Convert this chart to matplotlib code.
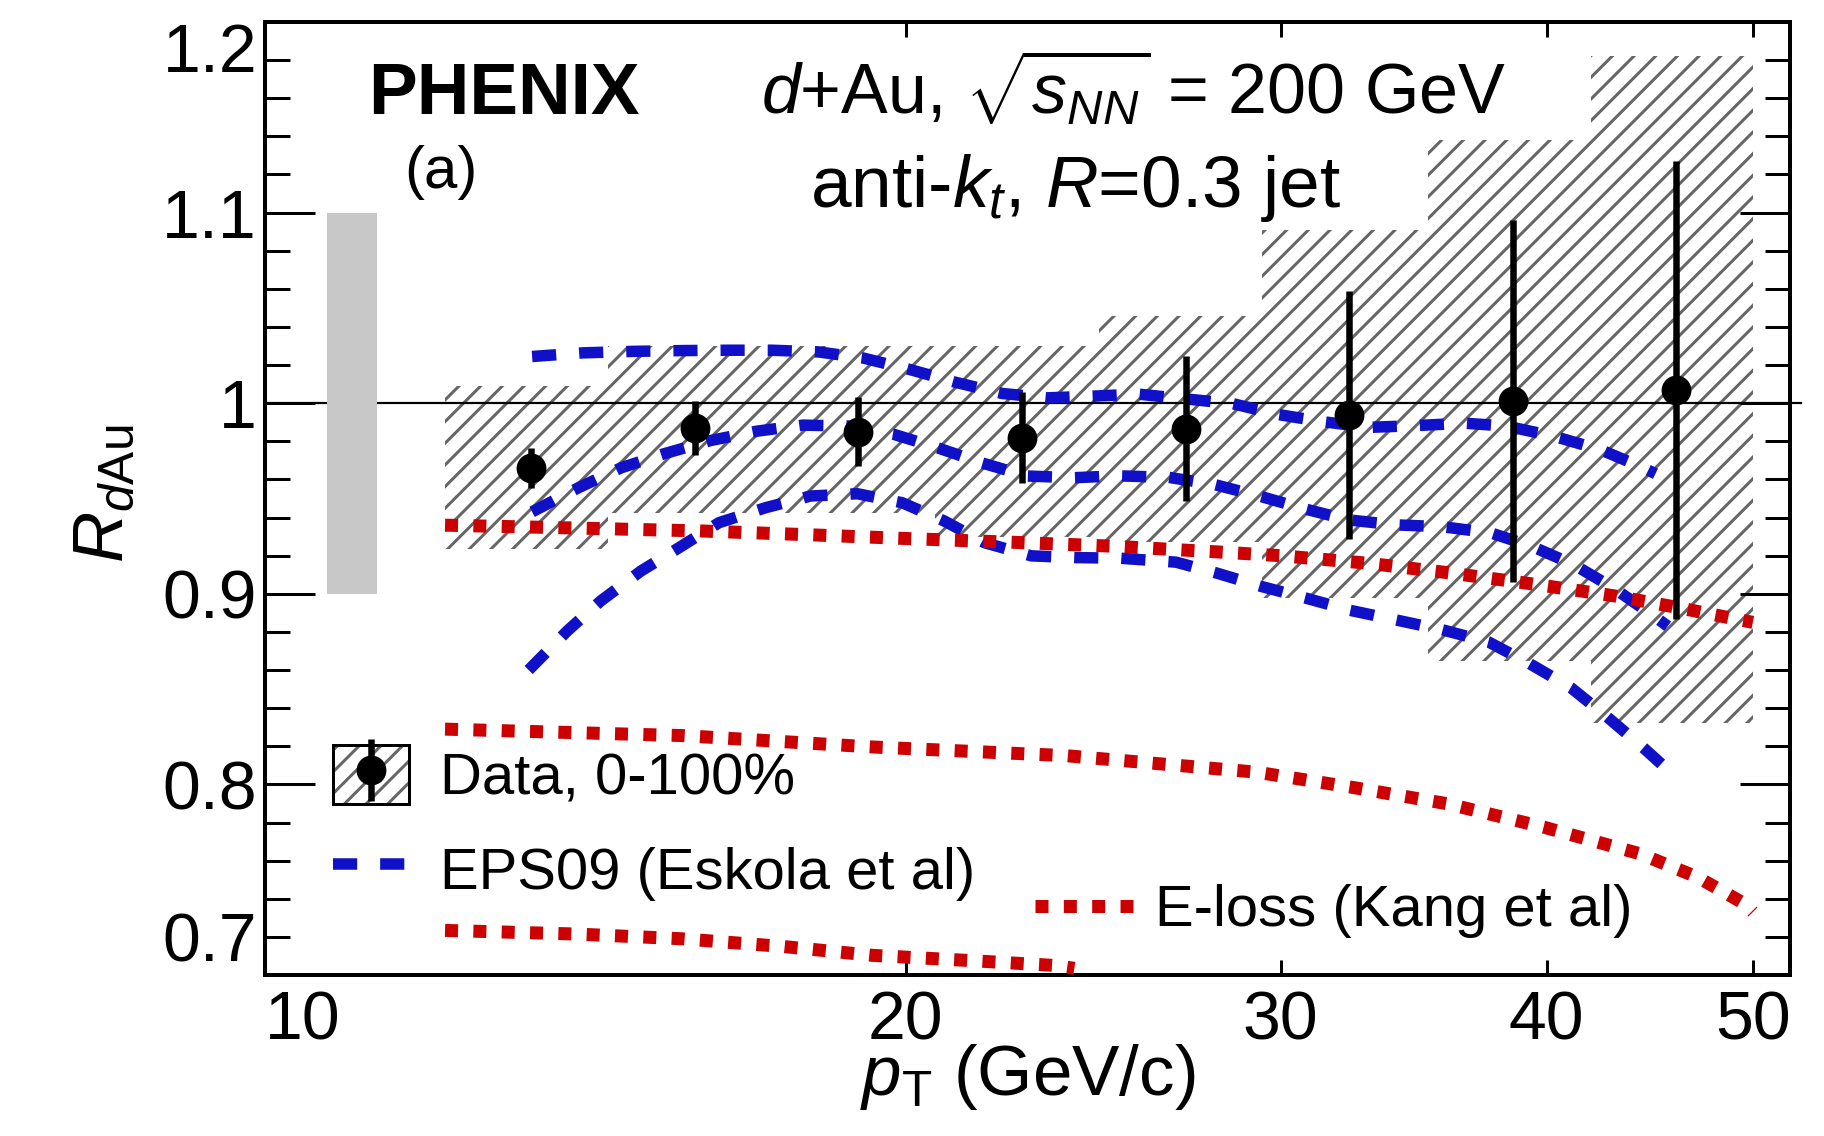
import numpy as np
import matplotlib
matplotlib.use('Agg')
import matplotlib.pyplot as plt
from matplotlib.patches import Patch
from matplotlib.lines import Line2D
from matplotlib.legend_handler import HandlerTuple
from matplotlib.ticker import MultipleLocator, NullLocator

DPI = 130


def px(v):
    # pixel size in the 1824x1136 picture -> points
    return v * 72.0 / DPI


# jet bins (GeV/c), data points, stat errors, systematic boxes
bin_lo = [12.15, 14.5, 17.3, 20.65, 24.65, 29.4, 35.2, 41.95]
bin_hi = [14.5, 17.3, 20.65, 24.65, 29.4, 35.2, 41.95, 50.0]
pt = [13.34, 15.92, 19.0, 22.67, 27.07, 32.3, 38.56, 46.02]
rdau = [0.966, 0.987, 0.985, 0.982, 0.9866, 0.994, 1.001, 1.007]
stat_err = [0.0105, 0.014, 0.018, 0.024, 0.038, 0.065, 0.095, 0.12]
sys_lo = [0.9235, 0.9425, 0.9425, 0.930, 0.927, 0.898, 0.865, 0.832]
sys_hi = [1.009, 1.030, 1.030, 1.030, 1.046, 1.091, 1.138, 1.182]

# global normalisation box
norm_x = [10.69, 11.29]
norm_lo = 0.9
norm_hi = 1.1

# EPS09 (Eskola et al) curves
eps_up_x = [13.35, 14.1, 14.9, 15.7, 16.5, 17.3, 18.2, 19.1, 20.1, 21.1, 22.2, 23.3,
            24.5, 25.7, 27.1, 28.5, 29.9, 31.4, 33.0, 34.8, 36.6, 38.3, 40.3, 42.4,
            44.4, 45.0]
eps_up_y = [1.0245, 1.0264, 1.0272, 1.0276, 1.0278, 1.0278, 1.0269, 1.0237, 1.0176,
            1.011, 1.0051, 1.0028, 1.0037, 1.0048, 1.0022, 0.9997, 0.9941, 0.9903,
            0.9873, 0.9883, 0.9895, 0.988, 0.9827, 0.9756, 0.9662, 0.963]
eps_mid_x = [13.35, 14.04, 14.70, 15.39, 16.19, 17.02, 17.89, 18.79, 19.75, 20.70,
             21.71, 22.80, 23.99, 25.15, 26.58, 27.93, 29.29, 30.78, 32.27, 33.92,
             35.74, 37.67, 39.38, 41.18, 43.05, 45.03, 45.6]
eps_mid_y = [0.943, 0.9557, 0.9661, 0.9734, 0.9804, 0.9853, 0.9885, 0.988, 0.9836,
             0.9766, 0.9687, 0.9618, 0.9609, 0.9619, 0.9611, 0.9573, 0.9514, 0.9446,
             0.9388, 0.9362, 0.9352, 0.9319, 0.9248, 0.9154, 0.9027, 0.8875, 0.883]
eps_lo_x = [13.3, 13.87, 14.38, 15.02, 15.65, 16.34, 17.19, 18.04, 18.98, 19.92,
            20.85, 21.78, 22.91, 24.0, 25.2, 26.79, 28.01, 29.37, 30.86, 32.35,
            34.01, 35.74, 37.57, 39.28, 41.07, 42.71, 44.44, 45.74]
eps_lo_y = [0.860, 0.8806, 0.8963, 0.912, 0.9242, 0.9373, 0.9452, 0.9513, 0.9525,
            0.9478, 0.9382, 0.9268, 0.9199, 0.919, 0.9187, 0.9166, 0.9108, 0.9039,
            0.8976, 0.8913, 0.8862, 0.8811, 0.8747, 0.8633, 0.8507, 0.8354, 0.819,
            0.8063]

# E-loss (Kang et al) curves
eloss_a_x = [12.15, 14.0, 16.0, 18.0, 20.0, 22.5, 25.0, 28.0, 30.0, 33.0, 36.0,
             39.5, 43.0, 46.0, 50.0]
eloss_a_y = [0.936, 0.9345, 0.933, 0.931, 0.929, 0.927, 0.925, 0.922, 0.920, 0.916,
             0.911, 0.905, 0.899, 0.893, 0.885]
eloss_b_x = [12.15, 15.72, 19.32, 23.77, 29.24, 32.4, 35.95, 39.9, 44.25, 47.1, 49.55,
             50.0]
eloss_b_y = [0.829, 0.8256, 0.8196, 0.8151, 0.8064, 0.7985, 0.7898, 0.7775, 0.7636,
             0.7513, 0.7374, 0.733]
eloss_c_x = [12.15, 14.0, 15.7, 17.5, 19.3, 21.5, 23.5, 24.0]
eloss_c_y = [0.7234, 0.7215, 0.719, 0.715, 0.7103, 0.7075, 0.705, 0.7035]

x_ticks = [10, 20, 30, 40, 50]
x_labels = ['10', '20', '30', '40', '50']
y_ticks = [0.7, 0.8, 0.9, 1.0, 1.1, 1.2]
y_labels = ['0.7', '0.8', '0.9', '1', '1.1', '1.2']

BLUE = '#1010c8'
RED = '#cc0000'
HATCH = '#666666'

plt.rcParams['font.family'] = 'Liberation Sans'
plt.rcParams['mathtext.fontset'] = 'custom'
plt.rcParams['mathtext.rm'] = 'Liberation Sans'
plt.rcParams['mathtext.it'] = 'Liberation Sans:italic'
plt.rcParams['mathtext.bf'] = 'Liberation Sans:bold'
plt.rcParams['hatch.linewidth'] = px(3)

fig = plt.figure(figsize=(1824 / DPI, 1136 / DPI), dpi=DPI)
ax = fig.add_axes([265 / 1824, 1 - 975 / 1136, 1525 / 1824, 953 / 1136])
ax.set_xscale('log')

# systematic boxes
ax.bar(bin_lo, np.subtract(sys_hi, sys_lo), width=np.subtract(bin_hi, bin_lo),
       bottom=sys_lo, align='edge', facecolor='none', edgecolor=HATCH,
       hatch='//', linewidth=0, zorder=1)

ax.axhline(1.0, color='k', lw=px(2.2), xmax=1.007, clip_on=False, zorder=1.5)
ax.fill_between(norm_x, norm_lo, norm_hi, color='#c8c8c8', lw=0, zorder=2)

for cx, cy in [(eps_up_x, eps_up_y), (eps_mid_x, eps_mid_y), (eps_lo_x, eps_lo_y)]:
    ax.plot(cx, cy, color=BLUE, lw=px(11.5), dashes=(2.1, 2.0), zorder=3)
for cx, cy in [(eloss_a_x, eloss_a_y), (eloss_b_x, eloss_b_y), (eloss_c_x, eloss_c_y)]:
    ax.plot(cx, cy, color=RED, lw=px(13), dashes=(1.0, 1.18), zorder=3)

ax.errorbar(pt, rdau, yerr=stat_err, fmt='o', color='k', ms=px(28),
            elinewidth=px(6.5), capsize=0, zorder=5)

ax.set_xlim(10, 52.05)
ax.set_ylim(0.7, 1.2)

ax.set_xticks(x_ticks)
ax.set_xticklabels(x_labels)
ax.xaxis.set_minor_locator(NullLocator())
ax.set_yticks(y_ticks)
ax.set_yticklabels(y_labels)
ax.yaxis.set_minor_locator(MultipleLocator(0.02))
ax.tick_params(axis='x', which='major', direction='in', length=px(15), width=px(3),
               top=True, labelsize=px(68), pad=px(14))
ax.tick_params(axis='y', which='major', direction='in', length=px(50), width=px(3),
               right=True, labelsize=px(68), pad=px(8))
ax.tick_params(axis='y', which='minor', direction='in', length=px(25), width=px(3),
               right=True)
ax.xaxis.get_major_ticks()[0].label1.set_ha('left')
yt = ax.yaxis.get_major_ticks()
yt[0].label1.set_va('bottom')
yt[-1].label1.set_va('top')
for s in ax.spines.values():
    s.set_linewidth(px(4))

# legends
data_handle = (Patch(facecolor='white', edgecolor=HATCH, hatch='//', lw=0),
               Patch(facecolor='none', edgecolor='k', lw=px(3)),
               Line2D([], [], ls='none', marker='|', ms=px(62), mew=px(6.5), color='k'),
               Line2D([], [], ls='none', marker='o', ms=px(28), color='k'))
eps_handle = Line2D([], [], color=BLUE, lw=px(11.5), dashes=(2.1, 2.0))
leg1 = ax.legend([data_handle, eps_handle], ['Data, 0-100%', 'EPS09 (Eskola et al)'],
                 handler_map={tuple: HandlerTuple(ndivide=1)}, loc='upper left',
                 bbox_to_anchor=(0.0449, 0.2413), frameon=False, fontsize=px(58),
                 handlelength=1.31, handleheight=1.2, handletextpad=0.53,
                 labelspacing=0.57, borderpad=0, borderaxespad=0)
ax.add_artist(leg1)
eloss_handle = Line2D([], [], color=RED, lw=px(13), dashes=(1.0, 1.18))
ax.legend([eloss_handle], ['E-loss (Kang et al)'], loc='center left',
          bbox_to_anchor=(0.505, 0.0672), frameon=False, fontsize=px(58),
          handlelength=1.7, handletextpad=0.36, borderpad=0, borderaxespad=0)

# labels
ax.text(0.1565, 0.9035, 'PHENIX', fontsize=px(73), fontweight='bold',
        ha='center', va='baseline', transform=ax.transAxes)
ax.text(0.1154, 0.826, '(a)', fontsize=px(60), ha='center', va='baseline',
        transform=ax.transAxes)
ax.text(0.5698, 0.9035, r'$d$+Au, $\sqrt{s_{NN}}$ = 200 GeV', fontsize=px(70),
        ha='center', va='baseline', transform=ax.transAxes)
ax.text(0.5315, 0.806, r'anti-$k_t$, $R$=0.3 jet', fontsize=px(73),
        ha='center', va='baseline', transform=ax.transAxes)
ax.text(-0.1052, 0.5047, r'$R_{d\mathrm{Au}}$', fontsize=px(71), rotation=90,
        ha='center', va='center', transform=ax.transAxes)
ax.text(0.5, -0.126, r'$p_{\mathrm{T}}$ (GeV/c)', fontsize=px(71),
        ha='center', va='baseline', transform=ax.transAxes)

fig.savefig('out.png', dpi=DPI)
